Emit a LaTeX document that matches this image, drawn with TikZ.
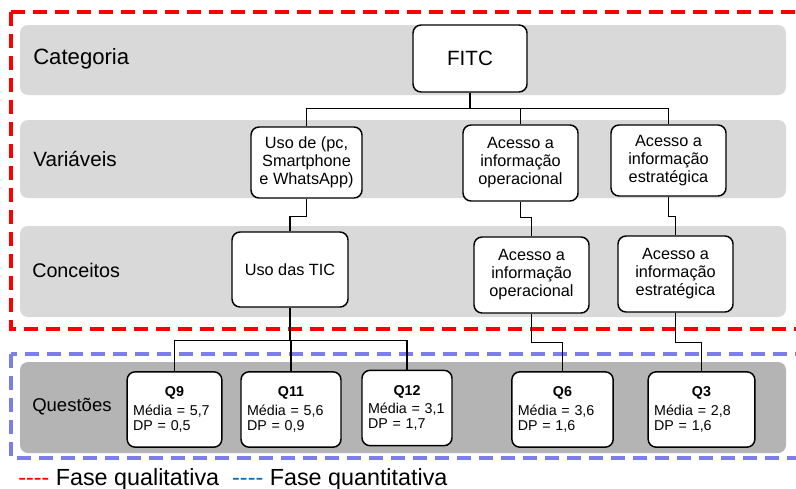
\documentclass[tikz,border=0pt]{standalone}
\usepackage{fontspec}
\setmainfont{Liberation Sans}
\usepackage{tikz}

\definecolor{bandgray}{RGB}{217,217,217}
\definecolor{qgray}{RGB}{180,180,180}
\definecolor{qualred}{RGB}{255,0,0}
\definecolor{quanblue}{RGB}{125,125,235}
\definecolor{legblue}{RGB}{0,112,192}
\newcommand{\qhead}[1]{\makebox[\linewidth][c]{\textbf{#1}}}

\begin{document}
\begin{tikzpicture}[x=0.75pt,y=0.75pt,yscale=-1,xscale=1,
    box/.style={draw, line width=1.1pt, rounded corners=6pt, fill=white, align=center, inner sep=2pt, font=\fontsize{12.2}{13.5}\selectfont},
    qbox/.style={draw, line width=1.1pt, rounded corners=6pt, fill=white, align=left, inner xsep=4.5pt, minimum height=56.5pt, font=\fontsize{10.7}{11.3}\selectfont},
    band/.style={rounded corners=6pt},
    link/.style={line width=1.1pt},
    phaseframe/.style={line width=2.6pt, dash pattern=on 10.5pt off 6pt}]
        \useasboundingbox (0,0) rectangle (796,489);
        \clip (0,0) rectangle (796,489);

        %Shape: Rectangle [bands]
        \fill[band, bandgray] (20,25) rectangle (786,95);
        \fill[band, bandgray] (20,120) rectangle (786,198);
        \fill[band, bandgray] (20,226) rectangle (786,317);
        \fill[band, qgray] (20,362) rectangle (786,453);

        %Shape: Rectangle [phases]
        \draw[phaseframe, qualred] (11,12) rectangle (812,329);
        \draw[phaseframe, quanblue] (11,354) rectangle (812,458);

        % Text Node
        \node[anchor=west, inner sep=0.75pt, font=\fontsize{16.6}{18}\selectfont] (lcat) at (32,59) {Categoria};
        % Text Node
        \node[anchor=west, inner sep=0.75pt, font=\fontsize{15.5}{18}\selectfont] (lvar) at (32,159) {Variáveis};
        % Text Node
        \node[anchor=west, inner sep=0.75pt, font=\fontsize{14.8}{18}\selectfont] (lcon) at (31,270) {Conceitos};
        % Text Node
        \node[anchor=west, inner sep=0.75pt, font=\fontsize{13.9}{16}\selectfont] (lque) at (31,407) {Questões};

        % Boxes
        \node[box, minimum width=85.5pt, minimum height=50.25pt, font=\fontsize{15.5}{18}\selectfont] (fitc) at (470,58.5) {FITC};
        \node[box, minimum width=83.25pt, minimum height=53.25pt] (usovar) at (306.5,162.5) {Uso de (pc,\\Smartphone\\e WhatsApp)};
        \node[box, minimum width=86.25pt, minimum height=57pt] (opvar) at (520.5,163) {Acesso a\\informação\\operacional};
        \node[box, minimum width=86.25pt, minimum height=53.25pt] (estrvar) at (668.5,160.5) {Acesso a\\informação\\estratégica};
        \node[box, minimum width=87pt, minimum height=56.25pt] (usotic) at (290,269.5) {Uso das TIC};
        \node[box, minimum width=86.25pt, minimum height=57pt] (opcon) at (531.5,275) {Acesso a\\informação\\operacional};
        \node[box, minimum width=86.25pt, minimum height=57pt] (estrcon) at (675.5,274) {Acesso a\\informação\\estratégica};

        \node[qbox, text width=62pt] (q9) at (174.5,409.5) {\qhead{Q9}\\[3pt]Média~=~5,7\\DP~=~0,5};
        \node[qbox, text width=66pt] (q11) at (291,409.5) {\qhead{Q11}\\[3pt]Média~=~5,6\\DP~=~0,9};
        \node[qbox, text width=58.5pt] (q12) at (407,408) {\qhead{Q12}\\[2pt]Média~=~3,1\\DP~=~1,7};
        \node[qbox, text width=67pt] (q6) at (562.5,409.5) {\qhead{Q6}\\[3pt]Média~=~3,6\\DP~=~1,6};
        \node[qbox, text width=71pt] (q3) at (701.5,409.5) {\qhead{Q3}\\[3pt]Média~=~2,8\\DP~=~1,6};

        % Connectors
        \foreach \n in {usovar,opvar,estrvar}
            \draw[link] (fitc.south) -- ++(0,16) -| (\n.north);
        \draw[link] (usovar.south) -- ++(0,18) -| (usotic.north);
        \draw[link] (opvar.south) -- ++(0,16) -| (opcon.north);
        \draw[link] (estrvar.south) -- ++(0,20) -| (estrcon.north);
        \foreach \n in {q9,q11,q12}
            \draw[link] (usotic.south) -- ++(0,33) -| (\n.north);
        \draw[link] (opcon.south) -- ++(0,29) -| (q6.north);
        \draw[link] (estrcon.south) -- ++(0,30) -| (q3.north);

        % Text Node
        \node[anchor=base west, inner sep=0pt, font=\fontsize{17.5}{20}\selectfont] (legend) at (18,485) {{\color{qualred}-{}-{}-{}-} Fase qualitativa \ {\color{legblue}-{}-{}-{}-} Fase quantitativa};
\end{tikzpicture}
\end{document}
